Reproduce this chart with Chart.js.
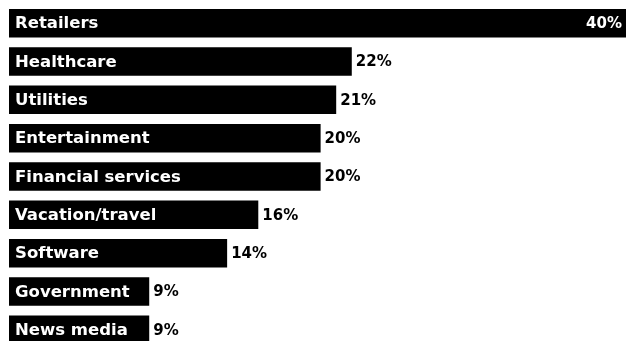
<!DOCTYPE html>
<html lang="en">
<head>
    <meta charset="UTF-8">
    <title>Sectors</title>
    <script src="https://cdn.jsdelivr.net/npm/chart.js@4"></script>
    <style>
        html, body {
            margin: 0;
            padding: 0;
            background: #fff;
            overflow: hidden;
        }
        #wrap {
            width: 626px;
            height: 341px;
            overflow: hidden;
        }
    </style>
</head>
<body>
    <div id="wrap">
        <canvas id="myChart" width="626" height="349"></canvas>
    </div>
    <script>
        const sectors = ["Retailers", "Healthcare", "Utilities", "Entertainment", "Financial services",
            "Vacation/travel", "Software", "Government", "News media"];
        const shares = [40, 22, 21, 20, 20, 16, 14, 9, 9];

        const NAME_FONT = "bold 16.5px 'DejaVu Sans', Verdana, sans-serif";
        const PCT_FONT = "bold 15px 'DejaVu Sans', Verdana, sans-serif";

        // labels: sector name inside bar, percent after it (or inside if bar runs off the edge)
        const barLabels = {
            id: 'barLabels',
            afterDatasetsDraw(chart) {
                const ctx = chart.ctx;
                const area = chart.chartArea;
                const meta = chart.getDatasetMeta(0);
                ctx.save();
                ctx.textBaseline = 'middle';
                meta.data.forEach((bar, i) => {
                    ctx.font = NAME_FONT;
                    ctx.fillStyle = '#fff';
                    ctx.textAlign = 'left';
                    ctx.fillText(sectors[i], bar.base + 6, bar.y + 1);
                    ctx.font = PCT_FONT;
                    const txt = shares[i] + '%';
                    const w = ctx.measureText(txt).width;
                    if (bar.x + w + 8 > area.right) {
                        ctx.textAlign = 'right';
                        ctx.fillText(txt, Math.min(bar.x, area.right) - 4, bar.y + 1);
                    } else {
                        ctx.fillStyle = '#000';
                        ctx.fillText(txt, bar.x + 4, bar.y + 1);
                    }
                });
                ctx.restore();
            }
        };

        new Chart("myChart", {
            type: "bar",
            data: {
                labels: sectors,
                datasets: [{
                    data: shares,
                    backgroundColor: "#000",
                    borderWidth: 0,
                    barPercentage: 0.745,
                    categoryPercentage: 1
                }]
            },
            options: {
                indexAxis: 'y',
                responsive: false,
                animation: false,
                layout: {
                    padding: { left: 9, right: 0, top: 4, bottom: 0 }
                },
                scales: {
                    x: { display: false, min: 0, max: 39.6 },
                    y: { display: false }
                },
                plugins: {
                    legend: { display: false },
                    tooltip: { enabled: false }
                }
            },
            plugins: [barLabels]
        });
    </script>
</body>
</html>
